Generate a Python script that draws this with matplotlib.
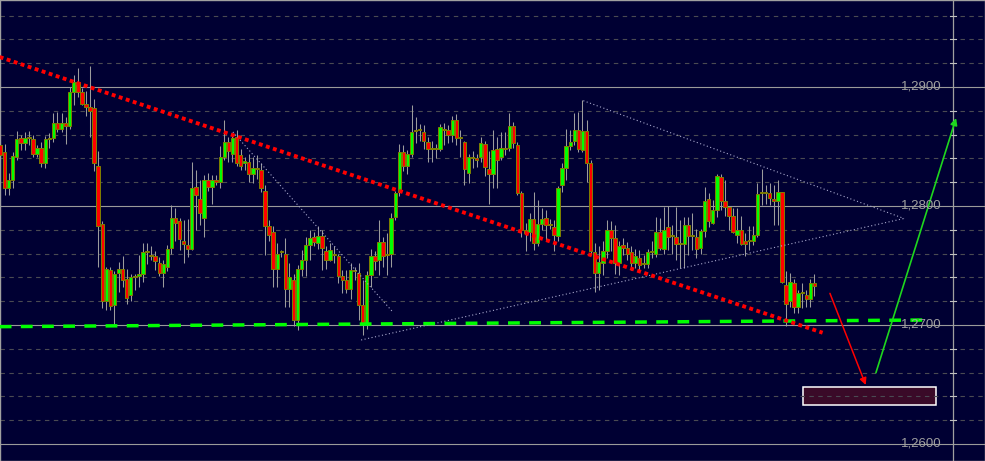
import numpy as np
import matplotlib
matplotlib.use("Agg")
from matplotlib import pyplot as plt
from matplotlib.patches import Rectangle

# candle data, one row per bar: open, high, low, close
bars = [
    (1.2851, 1.2855, 1.2839, 1.2843), (1.2845, 1.2852, 1.2809, 1.2815), (1.2815, 1.2828, 1.2809, 1.2822),
    (1.2822, 1.2845, 1.2815, 1.2842), (1.2841, 1.2863, 1.2839, 1.2856), (1.2857, 1.2860, 1.2847, 1.2853),
    (1.2853, 1.2862, 1.2847, 1.2857), (1.2857, 1.2863, 1.2851, 1.2858), (1.2856, 1.2860, 1.2841, 1.2844),
    (1.2844, 1.2851, 1.2841, 1.2849), (1.2849, 1.2854, 1.2833, 1.2836), (1.2836, 1.2859, 1.2832, 1.2856),
    (1.2856, 1.2861, 1.2849, 1.2857), (1.2857, 1.2878, 1.2854, 1.2870), (1.2870, 1.2879, 1.2862, 1.2865),
    (1.2865, 1.2878, 1.2862, 1.2870), (1.2870, 1.2875, 1.2852, 1.2867), (1.2867, 1.2900, 1.2865, 1.2896),
    (1.2896, 1.2910, 1.2885, 1.2904), (1.2904, 1.2916, 1.2892, 1.2896), (1.2896, 1.2899, 1.2885, 1.2886),
    (1.2886, 1.2897, 1.2876, 1.2883), (1.2883, 1.2918, 1.2858, 1.2880), (1.2882, 1.2890, 1.2829, 1.2836),
    (1.2834, 1.2846, 1.2749, 1.2783), (1.2785, 1.2787, 1.2714, 1.2720), (1.2720, 1.2749, 1.2713, 1.2747),
    (1.2746, 1.2749, 1.2713, 1.2716), (1.2717, 1.2745, 1.2699, 1.2743), (1.2744, 1.2753, 1.2728, 1.2747),
    (1.2747, 1.2758, 1.2732, 1.2738), (1.2739, 1.2747, 1.2718, 1.2723), (1.2725, 1.2743, 1.2720, 1.2740),
    (1.2740, 1.2743, 1.2729, 1.2741), (1.2741, 1.2759, 1.2732, 1.2743), (1.2743, 1.2769, 1.2736, 1.2761),
    (1.2761, 1.2769, 1.2751, 1.2761), (1.2759, 1.2766, 1.2755, 1.2758), (1.2758, 1.2762, 1.2746, 1.2754),
    (1.2752, 1.2757, 1.2741, 1.2744), (1.2744, 1.2755, 1.2732, 1.2751), (1.2749, 1.2767, 1.2745, 1.2764),
    (1.2765, 1.2801, 1.2760, 1.2790), (1.2790, 1.2798, 1.2771, 1.2786), (1.2787, 1.2790, 1.2763, 1.2772),
    (1.2771, 1.2788, 1.2752, 1.2768), (1.2767, 1.2789, 1.2757, 1.2764), (1.2764, 1.2837, 1.2763, 1.2815),
    (1.2816, 1.2830, 1.2780, 1.2809), (1.2806, 1.2822, 1.2784, 1.2794), (1.2790, 1.2826, 1.2774, 1.2822),
    (1.2822, 1.2828, 1.2813, 1.2816), (1.2816, 1.2826, 1.2802, 1.2822), (1.2822, 1.2826, 1.2818, 1.2820),
    (1.2820, 1.2850, 1.2815, 1.2841), (1.2841, 1.2872, 1.2839, 1.2854), (1.2854, 1.2858, 1.2837, 1.2846),
    (1.2844, 1.2860, 1.2837, 1.2857), (1.2858, 1.2864, 1.2834, 1.2836), (1.2843, 1.2848, 1.2830, 1.2834),
    (1.2836, 1.2841, 1.2830, 1.2838), (1.2837, 1.2844, 1.2820, 1.2827), (1.2827, 1.2841, 1.2819, 1.2832),
    (1.2832, 1.2843, 1.2823, 1.2831), (1.2830, 1.2836, 1.2812, 1.2815), (1.2813, 1.2818, 1.2759, 1.2783),
    (1.2783, 1.2788, 1.2771, 1.2776), (1.2778, 1.2783, 1.2732, 1.2747), (1.2747, 1.2769, 1.2732, 1.2760),
    (1.2761, 1.2763, 1.2757, 1.2762), (1.2760, 1.2773, 1.2715, 1.2730), (1.2730, 1.2752, 1.2715, 1.2740),
    (1.2738, 1.2743, 1.2699, 1.2704), (1.2704, 1.2750, 1.2696, 1.2747), (1.2747, 1.2763, 1.2741, 1.2755),
    (1.2755, 1.2774, 1.2741, 1.2767), (1.2767, 1.2780, 1.2755, 1.2773), (1.2774, 1.2778, 1.2766, 1.2770),
    (1.2769, 1.2783, 1.2764, 1.2775), (1.2775, 1.2780, 1.2746, 1.2765), (1.2762, 1.2766, 1.2747, 1.2755),
    (1.2755, 1.2769, 1.2754, 1.2763), (1.2759, 1.2766, 1.2752, 1.2759), (1.2758, 1.2760, 1.2735, 1.2741),
    (1.2741, 1.2746, 1.2727, 1.2738), (1.2738, 1.2746, 1.2727, 1.2730), (1.2730, 1.2752, 1.2722, 1.2746),
    (1.2745, 1.2749, 1.2738, 1.2745), (1.2744, 1.2752, 1.2704, 1.2717), (1.2717, 1.2738, 1.2692, 1.2701),
    (1.2701, 1.2745, 1.2697, 1.2742), (1.2742, 1.2764, 1.2732, 1.2758), (1.2758, 1.2762, 1.2746, 1.2754),
    (1.2755, 1.2788, 1.2742, 1.2770), (1.2770, 1.2774, 1.2749, 1.2758), (1.2759, 1.2777, 1.2742, 1.2760),
    (1.2760, 1.2794, 1.2749, 1.2790), (1.2791, 1.2813, 1.2788, 1.2811), (1.2812, 1.2852, 1.2808, 1.2845),
    (1.2845, 1.2851, 1.2829, 1.2834), (1.2834, 1.2847, 1.2827, 1.2844), (1.2844, 1.2885, 1.2841, 1.2862),
    (1.2864, 1.2875, 1.2853, 1.2863), (1.2864, 1.2869, 1.2855, 1.2864), (1.2862, 1.2868, 1.2848, 1.2855),
    (1.2854, 1.2858, 1.2837, 1.2848), (1.2848, 1.2855, 1.2837, 1.2848), (1.2848, 1.2852, 1.2840, 1.2849),
    (1.2848, 1.2869, 1.2846, 1.2866), (1.2865, 1.2870, 1.2851, 1.2864), (1.2864, 1.2868, 1.2853, 1.2860),
    (1.2860, 1.2876, 1.2854, 1.2872), (1.2872, 1.2877, 1.2851, 1.2857), (1.2857, 1.2864, 1.2841, 1.2857),
    (1.2854, 1.2855, 1.2818, 1.2831), (1.2828, 1.2844, 1.2819, 1.2841), (1.2840, 1.2846, 1.2832, 1.2840),
    (1.2840, 1.2844, 1.2833, 1.2839), (1.2841, 1.2858, 1.2837, 1.2853), (1.2852, 1.2855, 1.2825, 1.2833),
    (1.2831, 1.2846, 1.2802, 1.2827), (1.2827, 1.2864, 1.2815, 1.2847), (1.2848, 1.2858, 1.2815, 1.2839),
    (1.2841, 1.2862, 1.2839, 1.2849), (1.2848, 1.2862, 1.2843, 1.2848), (1.2849, 1.2878, 1.2846, 1.2867),
    (1.2867, 1.2871, 1.2849, 1.2853), (1.2851, 1.2854, 1.2809, 1.2811), (1.2811, 1.2813, 1.2774, 1.2780),
    (1.2780, 1.2786, 1.2762, 1.2777), (1.2778, 1.2794, 1.2771, 1.2789), (1.2789, 1.2812, 1.2763, 1.2769),
    (1.2769, 1.2805, 1.2766, 1.2785), (1.2785, 1.2798, 1.2780, 1.2789), (1.2790, 1.2797, 1.2771, 1.2784),
    (1.2784, 1.2789, 1.2781, 1.2784), (1.2782, 1.2788, 1.2762, 1.2776), (1.2775, 1.2817, 1.2771, 1.2815),
    (1.2818, 1.2836, 1.2812, 1.2832), (1.2832, 1.2865, 1.2822, 1.2850), (1.2850, 1.2864, 1.2847, 1.2854),
    (1.2855, 1.2878, 1.2851, 1.2864), (1.2864, 1.2879, 1.2845, 1.2848), (1.2847, 1.2889, 1.2845, 1.2863),
    (1.2863, 1.2872, 1.2820, 1.2836), (1.2836, 1.2839, 1.2759, 1.2762), (1.2761, 1.2769, 1.2728, 1.2744),
    (1.2744, 1.2766, 1.2729, 1.2753), (1.2752, 1.2771, 1.2742, 1.2762), (1.2762, 1.2788, 1.2756, 1.2780),
    (1.2780, 1.2787, 1.2762, 1.2773), (1.2773, 1.2784, 1.2743, 1.2752), (1.2752, 1.2771, 1.2742, 1.2766),
    (1.2767, 1.2773, 1.2759, 1.2765), (1.2765, 1.2770, 1.2755, 1.2760), (1.2761, 1.2766, 1.2746, 1.2752),
    (1.2752, 1.2764, 1.2748, 1.2758), (1.2756, 1.2763, 1.2746, 1.2750), (1.2751, 1.2759, 1.2748, 1.2751),
    (1.2751, 1.2764, 1.2748, 1.2761), (1.2761, 1.2771, 1.2756, 1.2761), (1.2760, 1.2791, 1.2757, 1.2778),
    (1.2778, 1.2790, 1.2763, 1.2765), (1.2764, 1.2799, 1.2760, 1.2780), (1.2782, 1.2800, 1.2763, 1.2774),
    (1.2775, 1.2784, 1.2760, 1.2775), (1.2774, 1.2799, 1.2755, 1.2768), (1.2768, 1.2788, 1.2748, 1.2768),
    (1.2768, 1.2791, 1.2748, 1.2784), (1.2784, 1.2791, 1.2759, 1.2775), (1.2775, 1.2794, 1.2763, 1.2775),
    (1.2774, 1.2781, 1.2756, 1.2764), (1.2765, 1.2781, 1.2760, 1.2779), (1.2779, 1.2816, 1.2774, 1.2804),
    (1.2806, 1.2811, 1.2782, 1.2787), (1.2786, 1.2805, 1.2785, 1.2797), (1.2797, 1.2827, 1.2791, 1.2825),
    (1.2824, 1.2827, 1.2797, 1.2804), (1.2804, 1.2822, 1.2792, 1.2799), (1.2799, 1.2800, 1.2780, 1.2792),
    (1.2792, 1.2798, 1.2777, 1.2778), (1.2776, 1.2798, 1.2769, 1.2780), (1.2780, 1.2792, 1.2767, 1.2768),
    (1.2771, 1.2777, 1.2758, 1.2768), (1.2771, 1.2783, 1.2763, 1.2771), (1.2771, 1.2783, 1.2767, 1.2776),
    (1.2776, 1.2819, 1.2774, 1.2810), (1.2811, 1.2831, 1.2801, 1.2811), (1.2811, 1.2818, 1.2802, 1.2811),
    (1.2811, 1.2819, 1.2801, 1.2807), (1.2806, 1.2818, 1.2784, 1.2804), (1.2804, 1.2822, 1.2784, 1.2812),
    (1.2812, 1.2812, 1.2735, 1.2736), (1.2734, 1.2745, 1.2699, 1.2718), (1.2720, 1.2744, 1.2715, 1.2736),
    (1.2735, 1.2739, 1.2710, 1.2715), (1.2715, 1.2729, 1.2710, 1.2727), (1.2727, 1.2735, 1.2714, 1.2728),
    (1.2725, 1.2729, 1.2715, 1.2722), (1.2722, 1.2739, 1.2715, 1.2735), (1.2735, 1.2743, 1.2724, 1.2733),
]
opens = np.array([b[0] for b in bars])
highs = np.array([b[1] for b in bars])
lows = np.array([b[2] for b in bars])
closes = np.array([b[3] for b in bars])

# price axis
major_levels = [1.2600, 1.2700, 1.2800, 1.2900]
major_labels = ["1,2600", "1,2700", "1,2800", "1,2900"]
minor_levels = [1.2620, 1.2640, 1.2660, 1.2680, 1.2720, 1.2740, 1.2760, 1.2780,
                1.2820, 1.2840, 1.2860, 1.2880, 1.2920, 1.2940, 1.2960]

# drawn objects (bar index, price)
red_trend_x = [-0.2, 202.0]
red_trend_y = [1.29252, 1.26935]
support_x = [-0.2, 227.4]
support_y = [1.26986, 1.27042]
thin_line_x = [57.1, 96.4]
thin_line_y = [1.28622, 1.27109]
tri_low_x = [88.6, 222.0]
tri_low_y = [1.26874, 1.27895]
tri_up_x = [143.2, 222.0]
tri_up_y = [1.28885, 1.27895]
down_arrow = [(203.8, 1.27266), (212.6, 1.26496)]
up_arrow = [(215.1, 1.26599), (234.8, 1.28739)]
target_box = (197.2, 1.26325, 229.8, 1.26482)

bg = "#000033"
fig = plt.figure(figsize=(9.85, 4.61), dpi=100, facecolor=bg)
ax = fig.add_axes([0, 0, 1, 1], facecolor=bg)
ax.set_xlim(-0.12, 241.9)
ax.set_ylim(1.258571, 1.297311)

# grid
for lv in minor_levels:
    ax.axhline(lv, color="#4a4a52", lw=0.8, dashes=(4, 4), zorder=1)
for lv in major_levels:
    ax.axhline(lv, color="#9a9a9a", lw=0.8, zorder=1)

# target zone
ax.add_patch(Rectangle((target_box[0], target_box[1]), target_box[2] - target_box[0],
                       target_box[3] - target_box[1], facecolor="#3a0a28",
                       edgecolor="white", lw=1.1, zorder=0.5))

# candles
x = np.arange(len(bars))
ax.vlines(x, lows, highs, color="#9c9c9c", lw=0.75, zorder=2)
for i in range(len(bars)):
    o, c = opens[i], closes[i]
    if c > o:
        col = "#00ff00"
    elif c < o:
        col = "#ff0000"
    else:
        col = "#808000"
    lo = min(o, c)
    h = max(abs(c - o), 0.00008)
    ax.add_patch(Rectangle((i - 0.42, lo), 0.84, h, facecolor=col,
                           edgecolor="#808000", lw=0.7, zorder=3))

# thin dotted lines
for xs, ys in [(thin_line_x, thin_line_y), (tri_low_x, tri_low_y), (tri_up_x, tri_up_y)]:
    ax.plot(xs, ys, color="#a8a8cc", lw=0.8, dashes=(1, 2.2), zorder=4)

# support and trend line
ax.plot(support_x, support_y, color="#00ff00", lw=2.5, dashes=(3.4, 2.7), zorder=5)
ax.plot(red_trend_x, red_trend_y, color="#ff0000", lw=2.8, dashes=(1.0, 0.9), zorder=5)

# arrows
ax.annotate("", xy=down_arrow[1], xytext=down_arrow[0],
            arrowprops=dict(arrowstyle="-|>", color="#ff0000", lw=1.1,
                            mutation_scale=10, shrinkA=0, shrinkB=0), zorder=6)
ax.annotate("", xy=up_arrow[1], xytext=up_arrow[0],
            arrowprops=dict(arrowstyle="-|>", color="#1ed71e", lw=1.2,
                            mutation_scale=10, shrinkA=0, shrinkB=0), zorder=6)

# price scale on the right
ax.axvline(233.95, color="#a0a0a0", lw=0.9, zorder=2)
for lv in minor_levels:
    ax.plot([233.2, 234.7], [lv, lv], color="#c0c0c0", lw=0.8, zorder=2)
for lv, lab in zip(major_levels, major_labels):
    ax.text(231.3, lv, lab, color="#a0a0a0", fontsize=9.5, family="Liberation Sans",
            ha="right", va="center", zorder=7)

ax.set_xticks([])
ax.set_yticks([])
for s in ax.spines.values():
    s.set_color("#a0a0a0")
    s.set_linewidth(1)

fig.savefig("out.png", dpi=100, facecolor=bg)
